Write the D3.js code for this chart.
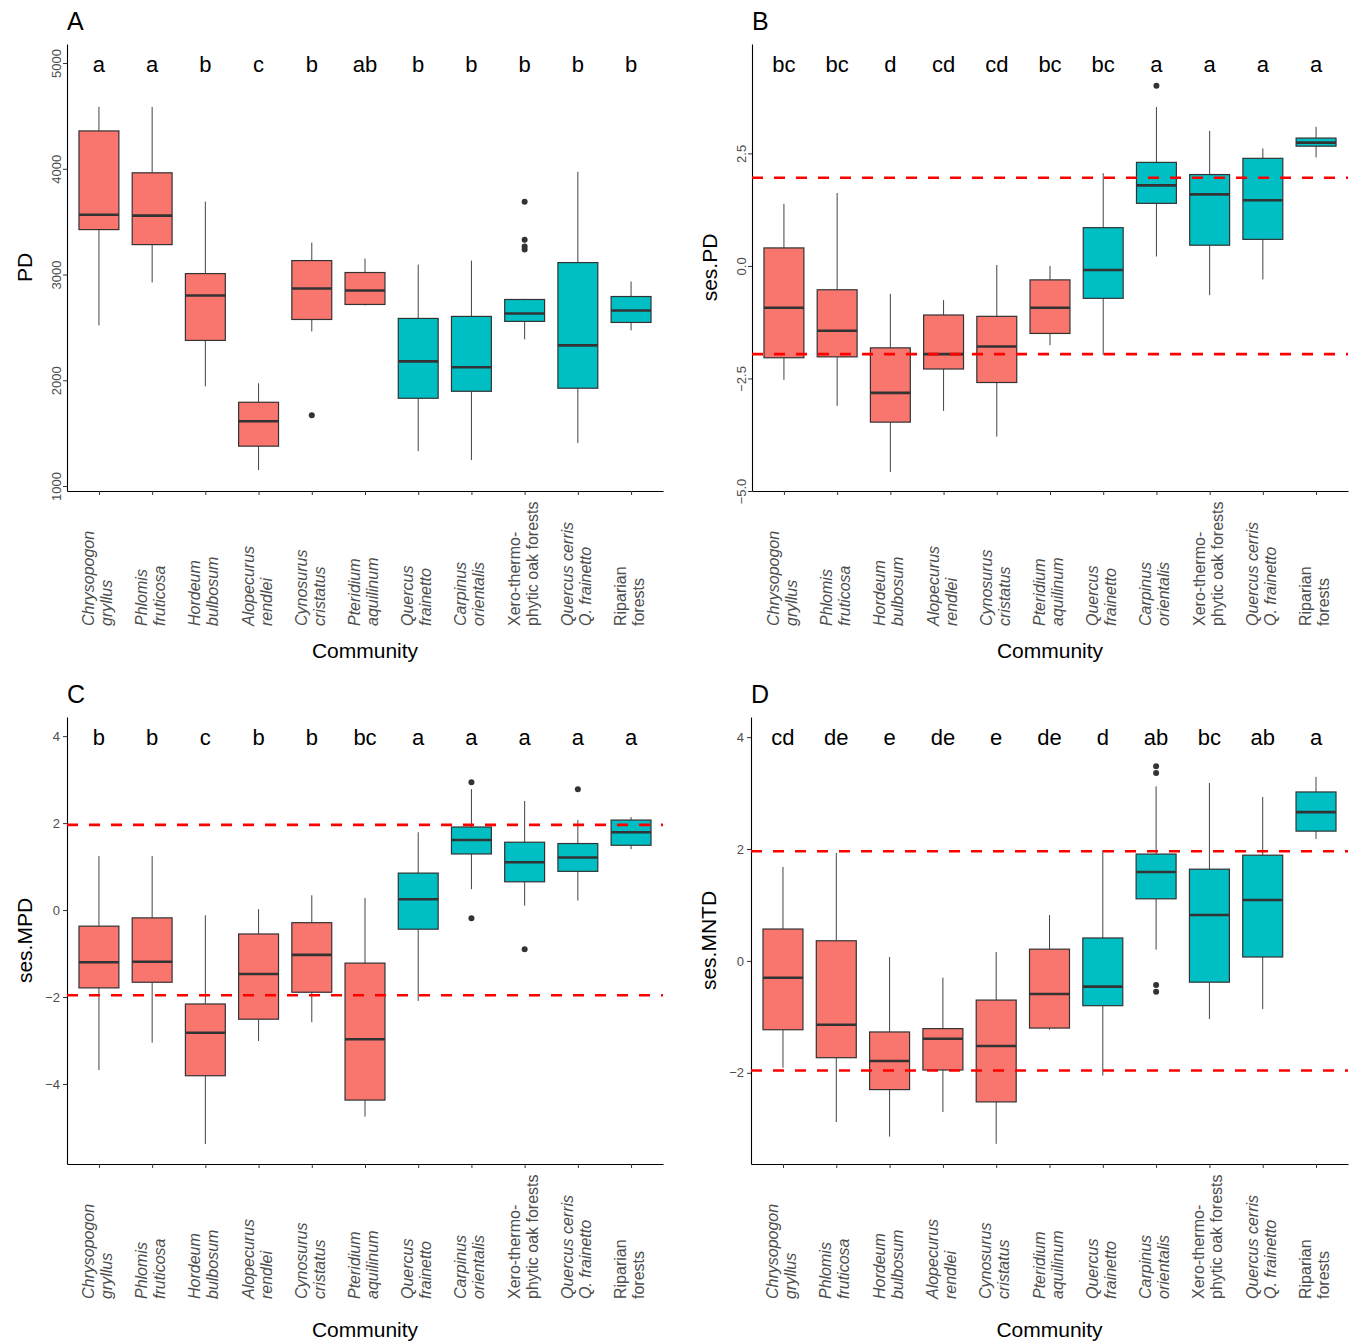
<!DOCTYPE html>
<html>
<head>
<meta charset="utf-8">
<script src="https://cdn.jsdelivr.net/npm/d3@7"></script>
<style>
  body { margin: 0; background: #fff; }
  text { font-family: "Liberation Sans", Arial, sans-serif; }
</style>
</head>
<body>
<script>
// Communities (x axis), two lines each
var communities = [
  ["Chrysopogon", "gryllus"], ["Phlomis", "fruticosa"], ["Hordeum", "bulbosum"],
  ["Alopecurus", "rendlei"], ["Cynosurus", "cristatus"], ["Pteridium", "aquilinum"],
  ["Quercus", "frainetto"], ["Carpinus", "orientalis"], ["Xero-thermo-", "phytic oak forests"],
  ["Quercus cerris", "Q. frainetto"], ["Riparian", "forests"]
];
var italicLabel = [true, true, true, true, true, true, true, true, false, true, false];
var vegetation = ["grassland", "grassland", "grassland", "grassland", "grassland", "grassland",
  "forest", "forest", "forest", "forest", "forest"];

// box stats: [lower whisker, Q1, median, Q3, upper whisker]
var pdStats = [
  [2519, 3425, 3566, 4358, 4585], [2925, 3283, 3557, 3962, 4585], [1943, 2377, 2802, 3009, 3689],
  [1151, 1377, 1613, 1792, 1972], [2462, 2575, 2868, 3132, 3302], [2708, 2717, 2849, 3019, 3151],
  [1330, 1830, 2179, 2585, 3094], [1245, 1896, 2123, 2604, 3132], [2387, 2557, 2632, 2764, 2770],
  [1406, 1925, 2330, 3113, 3972], [2472, 2547, 2660, 2792, 2934]
];
var pdOutliers = [[], [], [], [], [1670], [], [], [], [3689, 3330, 3264, 3236], [], []];
var pdLetters = ["a", "a", "b", "c", "b", "ab", "b", "b", "b", "b", "b"];

var sesPdStats = [
  [-2.53, -2.04, -0.93, 0.40, 1.38], [-3.11, -2.02, -1.44, -0.53, 1.62], [-4.58, -3.47, -2.82, -1.82, -0.62],
  [-3.22, -2.29, -1.96, -1.09, -0.76], [-3.79, -2.59, -1.79, -1.12, 0.02], [-1.76, -1.50, -0.93, -0.31, 0.0],
  [-1.98, -0.72, -0.09, 0.85, 2.06], [0.21, 1.39, 1.79, 2.30, 3.53], [-0.65, 0.46, 1.59, 2.03, 3.0],
  [-0.30, 0.59, 1.46, 2.39, 2.61], [2.41, 2.66, 2.74, 2.84, 3.09]
];
var sesPdOutliers = [[], [], [], [], [], [], [], [4.0], [], [], []];
var sesPdLetters = ["bc", "bc", "d", "cd", "cd", "bc", "bc", "a", "a", "a", "a"];

var sesMpdStats = [
  [-3.68, -1.79, -1.20, -0.37, 1.24], [-3.05, -1.66, -1.19, -0.18, 1.24], [-5.38, -3.81, -2.82, -2.16, -0.12],
  [-3.01, -2.51, -1.47, -0.55, 0.02], [-2.58, -1.89, -1.03, -0.29, 0.34], [-4.75, -4.37, -2.97, -1.22, 0.28],
  [-2.09, -0.44, 0.25, 0.85, 1.79], [0.48, 1.29, 1.61, 1.91, 2.78], [0.10, 0.65, 1.10, 1.56, 2.51],
  [0.22, 0.89, 1.21, 1.53, 2.07], [1.40, 1.49, 1.79, 2.07, 2.14]
];
var sesMpdOutliers = [[], [], [], [], [], [], [], [2.94, -0.19], [-0.90], [2.78], []];
var sesMpdLetters = ["b", "b", "c", "b", "b", "bc", "a", "a", "a", "a", "a"];

var sesMntdStats = [
  [-1.91, -1.23, -0.30, 0.57, 1.68], [-2.88, -1.73, -1.14, 0.36, 1.93], [-3.14, -2.30, -1.79, -1.27, 0.07],
  [-2.70, -1.95, -1.39, -1.21, -0.30], [-3.27, -2.52, -1.52, -0.70, 0.16], [-1.23, -1.20, -0.59, 0.21, 0.82],
  [-2.05, -0.80, -0.46, 0.41, 1.98], [0.20, 1.11, 1.59, 1.91, 3.12], [-1.04, -0.38, 0.82, 1.64, 3.18],
  [-0.86, 0.07, 1.09, 1.89, 2.93], [2.18, 2.32, 2.66, 3.02, 3.29]
];
var sesMntdOutliers = [[], [], [], [], [], [], [], [3.48, 3.36, -0.43, -0.55], [], [], []];
var sesMntdLetters = ["cd", "de", "e", "de", "e", "de", "d", "ab", "bc", "ab", "a"];

var nullLimits = [-1.96, 1.96];

/***** Configuration *****/
var width = 1351, height = 1342;
var fill = { grassland: "#F8766D", forest: "#00BFC4" };

var panels = [
  { tag: "A", title: "PD", stats: pdStats, outliers: pdOutliers, letters: pdLetters,
    left: 67, right: 663, top: 44, bottom: 491, domain: [953, 5180], titleGap: 167,
    ticks: [1000, 2000, 3000, 4000, 5000], fmt: d3.format("d"), rotate: true, hlines: false },
  { tag: "B", title: "ses.PD", stats: sesPdStats, outliers: sesPdOutliers, letters: sesPdLetters,
    left: 752, right: 1348, top: 44, bottom: 491, domain: [-5.0, 4.93], titleGap: 167,
    ticks: [-5, -2.5, 0, 2.5], fmt: d3.format(".1f"), rotate: true, hlines: true },
  { tag: "C", title: "ses.MPD", stats: sesMpdStats, outliers: sesMpdOutliers, letters: sesMpdLetters,
    left: 67, right: 663, top: 717, bottom: 1164, domain: [-5.84, 4.44], titleGap: 173,
    ticks: [-4, -2, 0, 2, 4], fmt: d3.format("d"), rotate: false, hlines: true },
  { tag: "D", title: "ses.MNTD", stats: sesMntdStats, outliers: sesMntdOutliers, letters: sesMntdLetters,
    left: 751, right: 1348, top: 717, bottom: 1164, domain: [-3.63, 4.36], titleGap: 173,
    ticks: [-2, 0, 2, 4], fmt: d3.format("d"), rotate: false, hlines: true }
];

var svg = d3.select("body").append("svg")
  .attr("width", width)
  .attr("height", height);

panels.forEach(drawPanel);

function drawPanel(p) {
  var g = svg.append("g");
  var idx = d3.range(communities.length);

  var x = d3.scalePoint().domain(idx).range([p.left, p.right]).padding(0.6);
  var y = d3.scaleLinear().domain(p.domain).range([p.bottom, p.top]);
  var bw = x.step() * 0.75;

  // Axes
  var yAxis = g.append("g")
    .attr("transform", "translate(" + p.left + ",0)")
    .call(d3.axisLeft(y).tickValues(p.ticks).tickFormat(p.fmt).tickSize(4).tickSizeOuter(0).tickPadding(3));
  var xAxis = g.append("g")
    .attr("transform", "translate(0," + p.bottom + ")")
    .call(d3.axisBottom(x).tickSize(4).tickSizeOuter(0).tickFormat(""));

  [yAxis, xAxis].forEach(function (ax) {
    ax.select(".domain").attr("stroke", "#000").attr("stroke-width", 1.1);
    ax.selectAll(".tick line").attr("stroke", "#333");
  });
  yAxis.selectAll(".tick text")
    .attr("fill", "#4d4d4d")
    .style("font-size", "13px");
  if (p.rotate) {
    yAxis.selectAll(".tick text")
      .attr("transform", "rotate(-90)")
      .attr("x", 0)
      .attr("y", -6)
      .attr("dy", 0)
      .attr("text-anchor", "middle");
  }

  // Boxes
  var boxes = g.append("g").selectAll("g")
    .data(p.stats)
    .join("g")
    .attr("transform", function (d, i) { return "translate(" + x(i) + ",0)"; });

  boxes.append("line")
    .attr("y1", function (d) { return y(d[4]); })
    .attr("y2", function (d) { return y(d[3]); })
    .attr("stroke", "#444").attr("stroke-width", 1);
  boxes.append("line")
    .attr("y1", function (d) { return y(d[1]); })
    .attr("y2", function (d) { return y(d[0]); })
    .attr("stroke", "#444").attr("stroke-width", 1);
  boxes.append("rect")
    .attr("x", -bw / 2)
    .attr("width", bw)
    .attr("y", function (d) { return y(d[3]); })
    .attr("height", function (d) { return y(d[1]) - y(d[3]); })
    .attr("fill", function (d, i) { return fill[vegetation[i]]; })
    .attr("stroke", "#333").attr("stroke-width", 1.2);
  boxes.append("line")
    .attr("x1", -bw / 2).attr("x2", bw / 2)
    .attr("y1", function (d) { return y(d[2]); })
    .attr("y2", function (d) { return y(d[2]); })
    .attr("stroke", "#333").attr("stroke-width", 2.6);

  // Outliers
  var pts = [];
  p.outliers.forEach(function (arr, i) { arr.forEach(function (v) { pts.push([i, v]); }); });
  g.append("g").selectAll("circle")
    .data(pts)
    .join("circle")
    .attr("cx", function (d) { return x(d[0]); })
    .attr("cy", function (d) { return y(d[1]); })
    .attr("r", 3)
    .attr("fill", "#333");

  // Null model limits
  if (p.hlines) {
    g.append("g").selectAll("line")
      .data(nullLimits)
      .join("line")
      .attr("x1", p.left).attr("x2", p.right)
      .attr("y1", function (d) { return y(d); })
      .attr("y2", function (d) { return y(d); })
      .attr("stroke", "#FF0000")
      .attr("stroke-width", 2.6)
      .attr("stroke-dasharray", "11,11");
  }

  // Significance letters
  g.append("g").selectAll("text")
    .data(p.letters)
    .join("text")
    .attr("x", function (d, i) { return x(i); })
    .attr("y", p.top + 28)
    .attr("text-anchor", "middle")
    .style("font-size", "22px")
    .attr("fill", "#000")
    .text(function (d) { return d; });

  // Community labels
  var labels = g.append("g").selectAll("text")
    .data(communities)
    .join("text")
    .attr("transform", function (d, i) { return "translate(" + x(i) + "," + (p.bottom + 135) + ") rotate(-90)"; })
    .attr("fill", "#4d4d4d")
    .style("font-size", "16px")
    .style("font-style", function (d, i) { return italicLabel[i] ? "italic" : "normal"; });
  labels.append("tspan").attr("x", 0).attr("y", -5).text(function (d) { return d[0]; });
  labels.append("tspan").attr("x", 0).attr("y", 13).text(function (d) { return d[1]; });

  // Axis titles
  g.append("text")
    .attr("x", (p.left + p.right) / 2)
    .attr("y", p.bottom + p.titleGap)
    .attr("text-anchor", "middle")
    .style("font-size", "21px")
    .text("Community");

  g.append("text")
    .attr("transform", "translate(" + (p.left - 35) + "," + ((p.top + p.bottom) / 2) + ") rotate(-90)")
    .attr("text-anchor", "middle")
    .style("font-size", "21px")
    .text(p.title);

  // Panel tag
  g.append("text")
    .attr("x", p.left)
    .attr("y", p.top - 14)
    .style("font-size", "25px")
    .text(p.tag);
}
</script>
</body>
</html>
